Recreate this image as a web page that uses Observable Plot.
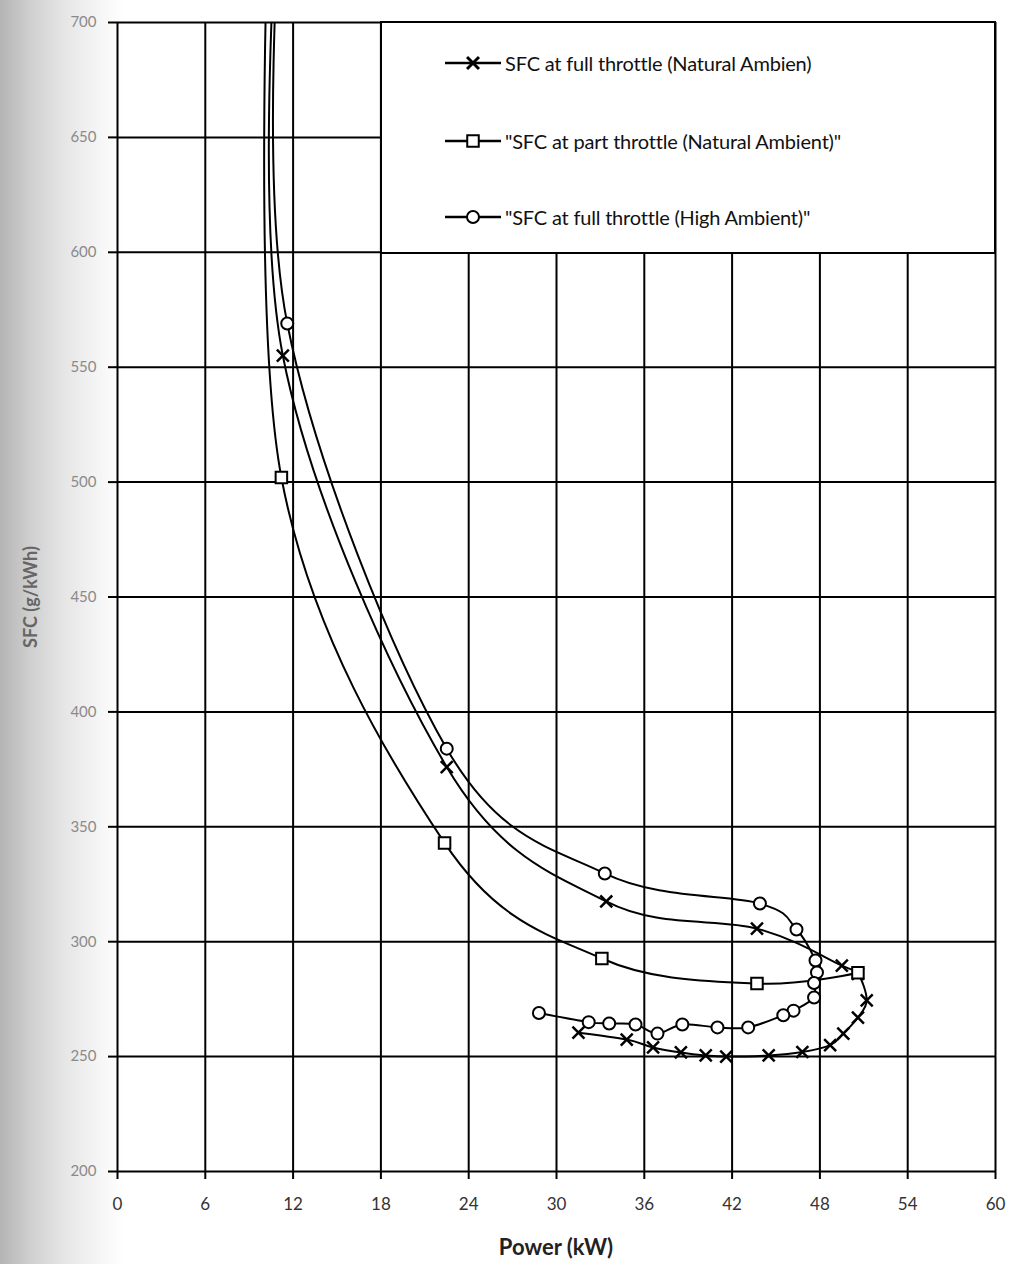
<!DOCTYPE html>
<html>
<head>
<meta charset="utf-8">
<script src="https://cdn.jsdelivr.net/npm/d3@7"></script>
<script src="https://cdn.jsdelivr.net/npm/@observablehq/plot@0.6"></script>
<style>
  html, body { margin: 0; padding: 0; }
  body { background: linear-gradient(to right, #b4b4b4 0px, #cfcfcf 30px, #e6e6e6 65px, #f6f6f6 100px, #ffffff 125px); }
  #wrap { position: relative; width: 1016px; height: 1264px; overflow: hidden; }
  #legend { position: absolute; left: 380px; top: 21px; width: 616px; height: 233px; background: #fff;
            border: 2px solid #000; box-sizing: border-box; font-family: Lato, "Open Sans", sans-serif; }
  .row { position: absolute; left: 63px; height: 24px; display: flex; align-items: center; white-space: nowrap;
         font-size: 20px; color: #111; letter-spacing: -0.2px; }
  .row svg { margin-right: 4px; }
  #xtitle { position: absolute; left: 0; width: 1112px; text-align: center; top: 1233px;
            font: bold 22px Lato, "Open Sans", sans-serif; color: #222; }
  #ytitle { position: absolute; left: 30px; top: 597px; transform: translate(-50%, -50%) rotate(-90deg);
            font: bold 18px Lato, "Open Sans", sans-serif; color: #666; white-space: nowrap; }
</style>
</head>
<body>
<div id="wrap">
  <div id="chart"></div>
  <div id="legend"></div>
  <div id="xtitle">Power (kW)</div>
  <div id="ytitle">SFC (g/kWh)</div>
</div>
<script>
// ---- data ----
const xTicks = [0, 6, 12, 18, 24, 30, 36, 42, 48, 54, 60];
const yTicks = [200, 250, 300, 350, 400, 450, 500, 550, 600, 650, 700];

const seriesNames = [
  "SFC at full throttle (Natural Ambien)",
  "\"SFC at part throttle (Natural Ambient)\"",
  "\"SFC at full throttle (High Ambient)\""
];

// SFC at full throttle (Natural Ambient) — x marks (first point lies above the plotted range)
const fullNatPower = [10.95, 11.3, 22.5, 33.4, 43.7, 49.5, 50.6, 51.2, 50.6, 49.6, 48.7, 46.8, 44.5, 41.6, 40.2, 38.5, 36.6, 34.8, 31.5];
const fullNatSFC   = [750, 555, 376, 317.5, 305.7, 289.6, 286, 274.5, 267, 260, 255, 252, 250.5, 250, 250.5, 251.8, 254, 257.4, 260.4];

// SFC at part throttle (Natural Ambient) — squares
const partNatPower = [10.35, 11.2, 22.35, 33.1, 43.7, 50.6];
const partNatSFC   = [750, 502, 343, 292.7, 281.8, 286.5];

// SFC at full throttle (High Ambient) — circles
const fullHighPower = [11.15, 11.6, 22.5, 33.3, 43.9, 46.4, 47.7, 47.8, 47.6, 47.6, 46.2, 45.5, 43.1, 41.0, 38.6, 36.9, 35.4, 33.6, 32.2, 28.8];
const fullHighSFC   = [750, 569, 384, 329.7, 316.6, 305.3, 291.8, 286.6, 282, 275.7, 270, 268, 262.7, 262.7, 264, 260, 264, 264.4, 265, 269];

const toRows = (xs, ys) => xs.map((x, i) => ({x, y: ys[i]}));
const fullNat = toRows(fullNatPower, fullNatSFC);
const partNat = toRows(partNatPower, partNatSFC);
const fullHigh = toRows(fullHighPower, fullHighSFC);

const lineOpts = {x: "x", y: "y", curve: "cardinal", tension: 0, stroke: "#000", strokeWidth: 2, clip: true};

const chart = Plot.plot({
  width: 1016,
  height: 1264,
  marginLeft: 117,
  marginRight: 21,
  marginTop: 22,
  marginBottom: 93,
  style: {background: "transparent", fontFamily: "Lato, 'Open Sans', sans-serif"},
  x: {domain: [0, 60]},
  y: {domain: [200, 700]},
  marks: [
    Plot.gridX(xTicks, {stroke: "#000", strokeOpacity: 1, strokeWidth: 2}),
    Plot.gridY(yTicks, {stroke: "#000", strokeOpacity: 1, strokeWidth: 2}),
    Plot.axisX(xTicks, {tickSize: 8, tickPadding: 18, fontSize: 17, label: null, stroke: "#000", fill: "#333", strokeWidth: 2}),
    Plot.axisY(yTicks, {tickSize: 9, tickPadding: 12, fontSize: 15, label: null, stroke: "#000", fill: "#8a8a8a", strokeWidth: 2}),
    Plot.line(fullNat, lineOpts),
    Plot.line(partNat, lineOpts),
    Plot.line(fullHigh, lineOpts),
    Plot.dot(fullNat, {x: "x", y: "y", symbol: "times", r: 5.5, stroke: "#000", strokeWidth: 2.5, clip: true}),
    Plot.dot(partNat, {x: "x", y: "y", symbol: "square", r: 6.5, fill: "#fff", stroke: "#000", strokeWidth: 2, clip: true}),
    Plot.dot(fullHigh, {x: "x", y: "y", symbol: "circle", r: 6, fill: "#fff", stroke: "#000", strokeWidth: 2, clip: true})
  ]
});
document.getElementById("chart").appendChild(chart);

// ---- legend ----
const legend = document.getElementById("legend");
const symbols = ["times", "square", "circle"];
const rowTops = [28, 106, 182];
seriesNames.forEach((name, i) => {
  const row = document.createElement("div");
  row.className = "row";
  row.style.top = rowTops[i] + "px";
  const ns = "http://www.w3.org/2000/svg";
  const svg = document.createElementNS(ns, "svg");
  svg.setAttribute("width", 56);
  svg.setAttribute("height", 24);
  const ln = document.createElementNS(ns, "line");
  ln.setAttribute("x1", 0); ln.setAttribute("x2", 56);
  ln.setAttribute("y1", 12); ln.setAttribute("y2", 12);
  ln.setAttribute("stroke", "#000"); ln.setAttribute("stroke-width", 2.5);
  svg.appendChild(ln);
  const sym = {times: d3.symbolTimes, square: d3.symbolSquare, circle: d3.symbolCircle}[symbols[i]];
  const r = [5.5, 6.5, 6][i];
  const p = document.createElementNS(ns, "path");
  p.setAttribute("d", d3.symbol(sym, r * r * Math.PI)());
  p.setAttribute("transform", "translate(28,12)");
  p.setAttribute("fill", symbols[i] === "times" ? "none" : "#fff");
  p.setAttribute("stroke", "#000");
  p.setAttribute("stroke-width", symbols[i] === "times" ? 3 : 2);
  svg.appendChild(p);
  row.appendChild(svg);
  const t = document.createElement("span");
  t.textContent = name;
  row.appendChild(t);
  legend.appendChild(row);
});
</script>
</body>
</html>
